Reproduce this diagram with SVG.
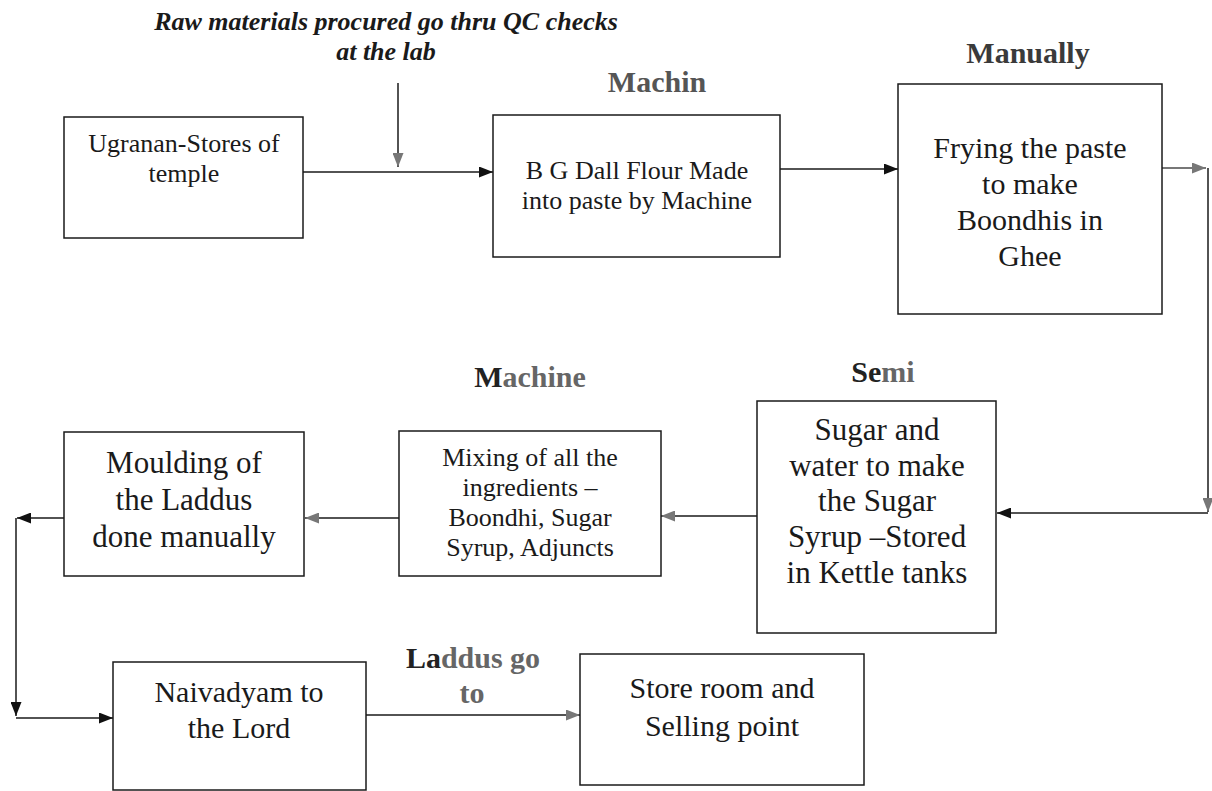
<svg xmlns="http://www.w3.org/2000/svg" width="1212" height="791" viewBox="0 0 1212 791">
  <defs>
    <style>
      .box { fill: #ffffff; stroke: #1a1a1a; stroke-width: 1.5; }
      .t { font-family: "Liberation Serif", "Times New Roman", serif; font-size: 30px; fill: #1a1a1a; text-anchor: middle; }
      .ts { font-size: 26px; }
      .tl { font-size: 31px; }
      .lbl { font-family: "Liberation Serif", "Times New Roman", serif; font-size: 30px; font-weight: bold; text-anchor: middle; fill: #222; }
      .ttl { font-family: "Liberation Serif", "Times New Roman", serif; font-size: 26px; font-weight: bold; font-style: italic; text-anchor: middle; fill: #1a1a1a; }
      .c { fill: none; stroke: #1a1a1a; stroke-width: 1.5; }
      .cg { fill: none; stroke: #777777; stroke-width: 1.8; }
      .fade { fill: #666; }
    </style>
    <marker id="ab" markerWidth="14" markerHeight="11" refX="14" refY="5.5" orient="auto" markerUnits="userSpaceOnUse">
      <path d="M0,0 L14,5.5 L0,11 z" fill="#111"/>
    </marker>
    <marker id="ag" markerWidth="14" markerHeight="11" refX="14" refY="5.5" orient="auto" markerUnits="userSpaceOnUse">
      <path d="M0,0 L14,5.5 L0,11 z" fill="#777"/>
    </marker>
  </defs>

  <rect x="0" y="0" width="1212" height="791" fill="#ffffff"/>

  <g id="title">
    <text class="ttl" x="386" y="30">Raw materials procured go thru QC checks</text>
    <text class="ttl" x="386" y="60">at the lab</text>
  </g>

  <g id="labels">
    <text class="lbl" x="657" y="92" style="fill:#555">Machin</text>
    <text class="lbl" x="1028" y="63" style="fill:#3a3a3a">Manually</text>
    <text class="lbl" x="883" y="382">Se<tspan class="fade">mi</tspan></text>
    <text class="lbl" x="530" y="387">M<tspan class="fade">achine</tspan></text>
    <text class="lbl" x="473" y="668">La<tspan class="fade">ddus go</tspan></text>
    <text class="lbl" x="472" y="703" style="fill:#666">to</text>
  </g>

  <g id="connectors">
    <line class="c" x1="398" y1="83" x2="398" y2="167" marker-end="url(#ag)"/>
    <line class="c" x1="303" y1="172" x2="493" y2="172" marker-end="url(#ab)"/>
    <line class="c" x1="780" y1="169" x2="898" y2="169" marker-end="url(#ab)"/>
    <line class="cg" x1="1162" y1="168" x2="1206" y2="168" marker-end="url(#ag)"/>
    <line class="c" x1="1208" y1="168" x2="1208" y2="512" marker-end="url(#ag)"/>
    <line class="c" x1="1208" y1="513" x2="997" y2="513" marker-end="url(#ab)"/>
    <line class="c" x1="757" y1="516" x2="661" y2="516" marker-end="url(#ag)"/>
    <line class="c" x1="399" y1="518" x2="305" y2="518" marker-end="url(#ag)"/>
    <line class="c" x1="64" y1="518" x2="17" y2="518" marker-end="url(#ab)"/>
    <line class="c" x1="16" y1="518" x2="16" y2="716" marker-end="url(#ab)"/>
    <line class="c" x1="16" y1="718" x2="113" y2="718" marker-end="url(#ab)"/>
    <line class="c" x1="366" y1="715" x2="580" y2="715" marker-end="url(#ag)"/>
  </g>

  <g id="n1">
    <rect class="box" x="64" y="117" width="239" height="121"/>
    <text class="t ts" x="184" y="152">Ugranan-Stores of</text>
    <text class="t ts" x="184" y="182">temple</text>
  </g>

  <g id="n2">
    <rect class="box" x="493" y="115" width="287" height="142"/>
    <text class="t ts" x="637" y="179">B G Dall Flour Made</text>
    <text class="t ts" x="637" y="209">into paste by Machine</text>
  </g>

  <g id="n3">
    <rect class="box" x="898" y="84" width="264" height="230"/>
    <text class="t" x="1030" y="158">Frying the paste</text>
    <text class="t" x="1030" y="194">to make</text>
    <text class="t" x="1030" y="230">Boondhis in</text>
    <text class="t" x="1030" y="266">Ghee</text>
  </g>

  <g id="n4">
    <rect class="box" x="757" y="401" width="239" height="232"/>
    <text class="t tl" x="877" y="440">Sugar and</text>
    <text class="t tl" x="877" y="476">water to make</text>
    <text class="t tl" x="877" y="511">the Sugar</text>
    <text class="t tl" x="877" y="547">Syrup –Stored</text>
    <text class="t tl" x="877" y="583">in Kettle tanks</text>
  </g>

  <g id="n5">
    <rect class="box" x="399" y="431" width="262" height="145"/>
    <text class="t ts" x="530" y="466">Mixing of all the</text>
    <text class="t ts" x="530" y="496">ingredients –</text>
    <text class="t ts" x="530" y="526">Boondhi, Sugar</text>
    <text class="t ts" x="530" y="556">Syrup, Adjuncts</text>
  </g>

  <g id="n6">
    <rect class="box" x="64" y="432" width="240" height="144"/>
    <text class="t tl" x="184" y="473">Moulding of</text>
    <text class="t tl" x="184" y="510">the Laddus</text>
    <text class="t tl" x="184" y="547">done manually</text>
  </g>

  <g id="n7">
    <rect class="box" x="113" y="662" width="253" height="128"/>
    <text class="t" x="239" y="702">Naivadyam to</text>
    <text class="t" x="239" y="738">the Lord</text>
  </g>

  <g id="n8">
    <rect class="box" x="580" y="654" width="284" height="131"/>
    <text class="t" x="722" y="698">Store room and</text>
    <text class="t" x="722" y="736">Selling point</text>
  </g>
</svg>
